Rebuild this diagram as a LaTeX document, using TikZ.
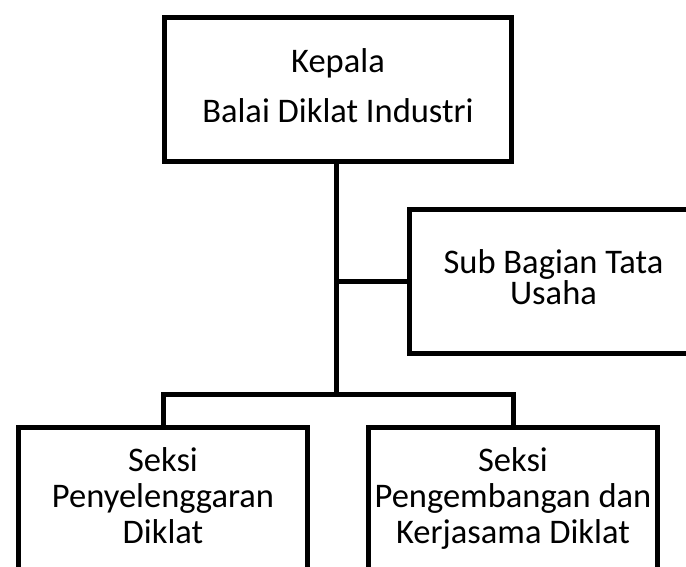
\documentclass[tikz,border=0pt]{standalone}
\usepackage{fontspec}
\setmainfont{Carlito}
\begin{document}
\begin{tikzpicture}[x=1pt,y=-1pt,
  orgbox/.style={draw=black,line width=5pt,fill=white,inner sep=0pt,align=center,anchor=north west},
  conn/.style={draw=black,line width=5pt}]
\useasboundingbox (0,0) rectangle (686,566);
\node[orgbox,minimum width=347.6pt,minimum height=143.7pt,text depth=8.5pt,
  font=\fontsize{34.5}{50}\selectfont] (top) at (161.7,15.3) {Kepala\\Balai Diklat Industri};
\node[orgbox,minimum width=288.6pt,minimum height=144.3pt,text depth=8.8pt,
  font=\fontsize{34.5}{31.5}\selectfont] (sub) at (406.7,206.7) {Sub Bagian Tata\\Usaha};
\node[orgbox,minimum width=289pt,minimum height=150.5pt,text depth=14pt,
  font=\fontsize{34.5}{36.35}\selectfont] (left) at (16,424.7) {Seksi\\Penyelenggaran\\Diklat};
\node[orgbox,minimum width=289pt,minimum height=150.5pt,text depth=14pt,
  font=\fontsize{34.5}{36.35}\selectfont] (right) at (366,424.7) {Seksi\\Pengembangan dan\\Kerjasama Diklat};
\coordinate (bar) at (336,394.7);
\draw[conn] (top.south -| bar) -- (bar);
\draw[conn] (sub.west) -- (sub.west -| bar);
\draw[conn] (left.north) |- (bar) -| (right.north);
\end{tikzpicture}
\end{document}
